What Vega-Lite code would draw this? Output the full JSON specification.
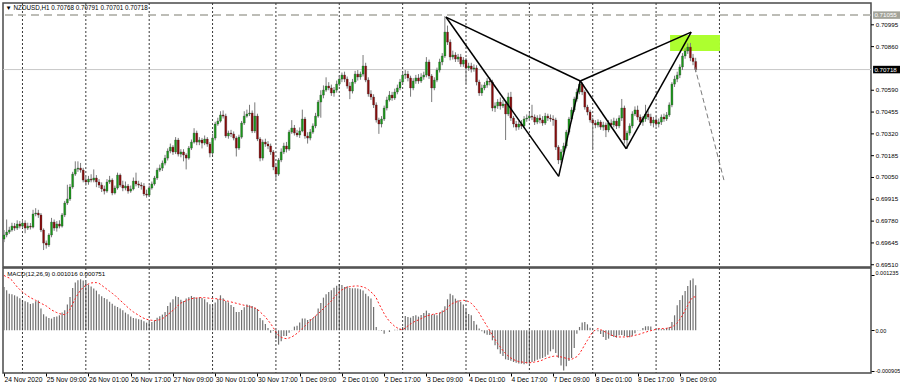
{
 "$schema": "https://vega.github.io/schema/vega-lite/v6.json",
 "background": "#ffffff",
 "padding": {"left": 1, "top": 1, "right": 0, "bottom": 0},
 "autosize": {"type": "pad"},
 "spacing": 1,
 "bounds": "flush",
 "resolve": {"scale": {"x": "independent", "y": "independent"}},
 "config": {
  "view": {"stroke": "#4a4a4a", "strokeWidth": 1.5},
  "scale": {"continuousPadding": 0},
  "text": {"font": "Liberation Sans"},
  "axis": {"labelFont": "Liberation Sans", "labelFontSize": 6.2, "labelColor": "#000000", "tickColor": "#000000", "tickSize": 3, "domain": false, "grid": false, "labelOverlap": false}
 },
 "datasets": {
  "grid": [{"i":7},{"i":31},{"i":55},{"i":79},{"i":103},{"i":127},{"i":151},{"i":175},{"i":199},{"i":223},{"i":247},{"i":271}],
  "pricelabels": [{"p":0.70995},{"p":0.7086},{"p":0.7059},{"p":0.70455},{"p":0.7032},{"p":0.70185},{"p":0.7005},{"p":0.69915},{"p":0.6978},{"p":0.69645},{"p":0.6951}],
  "pattern": [
   {"seg":"XA","i":167.4,"p":0.71043},{"seg":"XA","i":210.1,"p":0.70057},
   {"seg":"AB","i":210.1,"p":0.70057},{"seg":"AB","i":218.3,"p":0.70647},
   {"seg":"XB","i":167.4,"p":0.71043},{"seg":"XB","i":218.3,"p":0.70647},
   {"seg":"BC","i":218.3,"p":0.70647},{"seg":"BC","i":235.7,"p":0.70228},
   {"seg":"CD","i":235.7,"p":0.70228},{"seg":"CD","i":260.3,"p":0.7095},
   {"seg":"BD","i":218.3,"p":0.70647},{"seg":"BD","i":260.3,"p":0.7095}
  ],
  "proj": [{"i":261.7,"p":0.70734},{"i":272.7,"p":0.70034}],
  "zone": [{"i1":252.3,"i2":271.2,"p1":0.70932,"p2":0.70833}],
  "bars": [
{"i":0,"o":0.69669,"h":0.69725,"l":0.6965,"c":0.69694,"m":0.000975,"s":0.001235},
{"i":1,"o":0.69694,"h":0.6979,"l":0.6968,"c":0.69712,"m":0.0009,"s":0.0012},
{"i":2,"o":0.69712,"h":0.69745,"l":0.697,"c":0.69725,"m":0.000825,"s":0.001178},
{"i":3,"o":0.69725,"h":0.6977,"l":0.69715,"c":0.69749,"m":0.00081,"s":0.001125},
{"i":4,"o":0.69749,"h":0.69768,"l":0.6972,"c":0.69737,"m":0.000788,"s":0.00105},
{"i":5,"o":0.69737,"h":0.69785,"l":0.69725,"c":0.69762,"m":0.000758,"s":0.000975},
{"i":6,"o":0.69762,"h":0.6978,"l":0.69735,"c":0.69749,"m":0.00072,"s":0.000915},
{"i":7,"o":0.69749,"h":0.6979,"l":0.69738,"c":0.69768,"m":0.000675,"s":0.000863},
{"i":8,"o":0.69768,"h":0.69785,"l":0.69705,"c":0.69737,"m":0.000653,"s":0.000818},
{"i":9,"o":0.69737,"h":0.6977,"l":0.69725,"c":0.69749,"m":0.00063,"s":0.000773},
{"i":10,"o":0.69749,"h":0.69768,"l":0.69728,"c":0.69743,"m":0.000593,"s":0.000735},
{"i":11,"o":0.69743,"h":0.6985,"l":0.69735,"c":0.69824,"m":0.000608,"s":0.000705},
{"i":12,"o":0.69824,"h":0.6986,"l":0.6981,"c":0.6983,"m":0.000653,"s":0.000675},
{"i":13,"o":0.6983,"h":0.6985,"l":0.698,"c":0.69818,"m":0.000668,"s":0.000638},
{"i":14,"o":0.69818,"h":0.6983,"l":0.69712,"c":0.69725,"m":0.000488,"s":0.000608},
{"i":15,"o":0.69725,"h":0.69735,"l":0.69601,"c":0.69644,"m":0.00036,"s":0.000578},
{"i":16,"o":0.69644,"h":0.6966,"l":0.6961,"c":0.69632,"m":0.000308,"s":0.000548},
{"i":17,"o":0.69632,"h":0.69705,"l":0.6962,"c":0.69694,"m":0.000278,"s":0.000503},
{"i":18,"o":0.69694,"h":0.698,"l":0.6968,"c":0.69774,"m":0.000263,"s":0.000458},
{"i":19,"o":0.69774,"h":0.6979,"l":0.6972,"c":0.69737,"m":0.0003,"s":0.000428},
{"i":20,"o":0.69737,"h":0.6978,"l":0.69715,"c":0.69762,"m":0.000308,"s":0.000398},
{"i":21,"o":0.69762,"h":0.69785,"l":0.69735,"c":0.69749,"m":0.000338,"s":0.000375},
{"i":22,"o":0.69749,"h":0.6983,"l":0.6974,"c":0.69818,"m":0.000398,"s":0.00036},
{"i":23,"o":0.69818,"h":0.69905,"l":0.69805,"c":0.69892,"m":0.00045,"s":0.000353},
{"i":24,"o":0.69892,"h":0.70005,"l":0.6988,"c":0.69917,"m":0.000578,"s":0.00039},
{"i":25,"o":0.69917,"h":0.7001,"l":0.69905,"c":0.69991,"m":0.00075,"s":0.000473},
{"i":26,"o":0.69991,"h":0.70085,"l":0.6998,"c":0.70071,"m":0.000953,"s":0.000593},
{"i":27,"o":0.70071,"h":0.7015,"l":0.7006,"c":0.70102,"m":0.001073,"s":0.000713},
{"i":28,"o":0.70102,"h":0.7015,"l":0.70085,"c":0.70108,"m":0.001125,"s":0.000818},
{"i":29,"o":0.70108,"h":0.7014,"l":0.7008,"c":0.70096,"m":0.001148,"s":0.0009},
{"i":30,"o":0.70096,"h":0.7011,"l":0.7002,"c":0.70034,"m":0.001118,"s":0.000968},
{"i":31,"o":0.70034,"h":0.70055,"l":0.7,"c":0.70022,"m":0.001088,"s":0.001013},
{"i":32,"o":0.70022,"h":0.7006,"l":0.70005,"c":0.7004,"m":0.001028,"s":0.001043},
{"i":33,"o":0.7004,"h":0.7007,"l":0.7002,"c":0.70034,"m":0.000983,"s":0.001065},
{"i":34,"o":0.70034,"h":0.701,"l":0.7002,"c":0.70047,"m":0.000938,"s":0.001073},
{"i":35,"o":0.70047,"h":0.70065,"l":0.6999,"c":0.70022,"m":0.000893,"s":0.001073},
{"i":36,"o":0.70022,"h":0.7004,"l":0.69985,"c":0.70003,"m":0.00081,"s":0.001058},
{"i":37,"o":0.70003,"h":0.7002,"l":0.6996,"c":0.69979,"m":0.000765,"s":0.001013},
{"i":38,"o":0.69979,"h":0.7,"l":0.69945,"c":0.69966,"m":0.000728,"s":0.000968},
{"i":39,"o":0.69966,"h":0.7004,"l":0.69955,"c":0.70022,"m":0.000698,"s":0.000923},
{"i":40,"o":0.70022,"h":0.7006,"l":0.7001,"c":0.70034,"m":0.000645,"s":0.000878},
{"i":41,"o":0.70034,"h":0.70045,"l":0.6994,"c":0.69954,"m":0.0006,"s":0.000833},
{"i":42,"o":0.69954,"h":0.7,"l":0.69945,"c":0.69985,"m":0.000555,"s":0.000788},
{"i":43,"o":0.69985,"h":0.7008,"l":0.69975,"c":0.70065,"m":0.000525,"s":0.000728},
{"i":44,"o":0.70065,"h":0.70075,"l":0.6999,"c":0.70003,"m":0.000488,"s":0.000675},
{"i":45,"o":0.70003,"h":0.7003,"l":0.69965,"c":0.69985,"m":0.00045,"s":0.000623},
{"i":46,"o":0.69985,"h":0.70025,"l":0.6997,"c":0.69997,"m":0.000398,"s":0.000563},
{"i":47,"o":0.69997,"h":0.7001,"l":0.6995,"c":0.69966,"m":0.00036,"s":0.00051},
{"i":48,"o":0.69966,"h":0.7,"l":0.69955,"c":0.69979,"m":0.000308,"s":0.000458},
{"i":49,"o":0.69979,"h":0.7005,"l":0.6997,"c":0.70028,"m":0.000278,"s":0.000413},
{"i":50,"o":0.70028,"h":0.7008,"l":0.69995,"c":0.7001,"m":0.000263,"s":0.000375},
{"i":51,"o":0.7001,"h":0.7003,"l":0.69985,"c":0.70003,"m":0.000248,"s":0.000338},
{"i":52,"o":0.70003,"h":0.7002,"l":0.69975,"c":0.69997,"m":0.00024,"s":0.0003},
{"i":53,"o":0.69997,"h":0.70015,"l":0.69935,"c":0.69948,"m":0.000203,"s":0.00027},
{"i":54,"o":0.69948,"h":0.69975,"l":0.69925,"c":0.69941,"m":0.000173,"s":0.000248},
{"i":55,"o":0.69941,"h":0.7,"l":0.6993,"c":0.69985,"m":0.000188,"s":0.000233},
{"i":56,"o":0.69985,"h":0.70025,"l":0.69975,"c":0.7001,"m":0.000188,"s":0.000225},
{"i":57,"o":0.7001,"h":0.7006,"l":0.7,"c":0.70047,"m":0.000225,"s":0.000218},
{"i":58,"o":0.70047,"h":0.7011,"l":0.70035,"c":0.70096,"m":0.000285,"s":0.000225},
{"i":59,"o":0.70096,"h":0.7013,"l":0.70085,"c":0.70108,"m":0.000315,"s":0.00024},
{"i":60,"o":0.70108,"h":0.70155,"l":0.7009,"c":0.70139,"m":0.000353,"s":0.000263},
{"i":61,"o":0.70139,"h":0.7019,"l":0.70125,"c":0.7017,"m":0.000413,"s":0.0003},
{"i":62,"o":0.7017,"h":0.7023,"l":0.70155,"c":0.70214,"m":0.000548,"s":0.000353},
{"i":63,"o":0.70214,"h":0.7026,"l":0.702,"c":0.70238,"m":0.000623,"s":0.000398},
{"i":64,"o":0.70238,"h":0.7025,"l":0.7019,"c":0.70208,"m":0.000698,"s":0.00045},
{"i":65,"o":0.70208,"h":0.703,"l":0.70195,"c":0.70282,"m":0.000765,"s":0.000503},
{"i":66,"o":0.70282,"h":0.70295,"l":0.7018,"c":0.70195,"m":0.00075,"s":0.000563},
{"i":67,"o":0.70195,"h":0.70225,"l":0.70175,"c":0.70208,"m":0.00069,"s":0.000615},
{"i":68,"o":0.70208,"h":0.70225,"l":0.7015,"c":0.70189,"m":0.00066,"s":0.000638},
{"i":69,"o":0.70189,"h":0.702,"l":0.701,"c":0.7017,"m":0.000713,"s":0.000668},
{"i":70,"o":0.7017,"h":0.70245,"l":0.7016,"c":0.70232,"m":0.000743,"s":0.00069},
{"i":71,"o":0.70232,"h":0.70285,"l":0.7022,"c":0.70269,"m":0.000773,"s":0.000713},
{"i":72,"o":0.70269,"h":0.70355,"l":0.7026,"c":0.70325,"m":0.00075,"s":0.00072},
{"i":73,"o":0.70325,"h":0.7034,"l":0.7025,"c":0.70269,"m":0.000728,"s":0.000728},
{"i":74,"o":0.70269,"h":0.703,"l":0.7025,"c":0.70282,"m":0.000743,"s":0.000735},
{"i":75,"o":0.70282,"h":0.70295,"l":0.7023,"c":0.70263,"m":0.000728,"s":0.000735},
{"i":76,"o":0.70263,"h":0.7031,"l":0.7025,"c":0.70288,"m":0.000698,"s":0.000735},
{"i":77,"o":0.70288,"h":0.703,"l":0.7024,"c":0.70257,"m":0.00063,"s":0.000728},
{"i":78,"o":0.70257,"h":0.7027,"l":0.70175,"c":0.70201,"m":0.000585,"s":0.00072},
{"i":79,"o":0.70201,"h":0.7032,"l":0.7019,"c":0.70294,"m":0.000585,"s":0.000713},
{"i":80,"o":0.70294,"h":0.70395,"l":0.7028,"c":0.70381,"m":0.000623,"s":0.000713},
{"i":81,"o":0.70381,"h":0.7042,"l":0.7037,"c":0.70399,"m":0.000705,"s":0.000705},
{"i":82,"o":0.70399,"h":0.7046,"l":0.7039,"c":0.70437,"m":0.000788,"s":0.000698},
{"i":83,"o":0.70437,"h":0.70465,"l":0.70415,"c":0.7043,"m":0.00072,"s":0.000683},
{"i":84,"o":0.7043,"h":0.70445,"l":0.70295,"c":0.70307,"m":0.00066,"s":0.000668},
{"i":85,"o":0.70307,"h":0.7034,"l":0.7029,"c":0.70325,"m":0.00063,"s":0.000653},
{"i":86,"o":0.70325,"h":0.70345,"l":0.703,"c":0.70319,"m":0.00057,"s":0.000638},
{"i":87,"o":0.70319,"h":0.70335,"l":0.7028,"c":0.70294,"m":0.000525,"s":0.000623},
{"i":88,"o":0.70294,"h":0.70305,"l":0.7018,"c":0.70232,"m":0.000413,"s":0.000608},
{"i":89,"o":0.70232,"h":0.70315,"l":0.7022,"c":0.703,"m":0.000413,"s":0.000593},
{"i":90,"o":0.703,"h":0.704,"l":0.7029,"c":0.70387,"m":0.000458,"s":0.000578},
{"i":91,"o":0.70387,"h":0.7046,"l":0.70375,"c":0.7043,"m":0.000518,"s":0.000563},
{"i":92,"o":0.7043,"h":0.7047,"l":0.7042,"c":0.70443,"m":0.000578,"s":0.000548},
{"i":93,"o":0.70443,"h":0.705,"l":0.7043,"c":0.70449,"m":0.000563,"s":0.000533},
{"i":94,"o":0.70449,"h":0.70465,"l":0.70325,"c":0.70338,"m":0.000548,"s":0.000518},
{"i":95,"o":0.70338,"h":0.70515,"l":0.70325,"c":0.7043,"m":0.00051,"s":0.000503},
{"i":96,"o":0.7043,"h":0.70445,"l":0.70275,"c":0.70288,"m":0.00048,"s":0.000473},
{"i":97,"o":0.70288,"h":0.703,"l":0.7015,"c":0.7017,"m":0.000278,"s":0.000413},
{"i":98,"o":0.7017,"h":0.70285,"l":0.70155,"c":0.70269,"m":0.000225,"s":0.00036},
{"i":99,"o":0.70269,"h":0.7029,"l":0.7024,"c":0.70257,"m":0.000143,"s":0.0003},
{"i":100,"o":0.70257,"h":0.70275,"l":0.70225,"c":0.70245,"m":0.000053,"s":0.000225},
{"i":101,"o":0.70245,"h":0.7026,"l":0.7019,"c":0.70208,"m":-0.000053,"s":0.00015},
{"i":102,"o":0.70208,"h":0.7022,"l":0.70095,"c":0.70115,"m":-0.000015,"s":0.00006},
{"i":103,"o":0.70115,"h":0.7013,"l":0.7004,"c":0.70071,"m":-0.000188,"s":-0.000038},
{"i":104,"o":0.70071,"h":0.7017,"l":0.7006,"c":0.70158,"m":-0.000323,"s":-0.000113},
{"i":105,"o":0.70158,"h":0.7023,"l":0.70145,"c":0.70208,"m":-0.000248,"s":-0.000158},
{"i":106,"o":0.70208,"h":0.70265,"l":0.70195,"c":0.70245,"m":-0.000128,"s":-0.00018},
{"i":107,"o":0.70245,"h":0.7027,"l":0.70205,"c":0.70226,"m":-0.000128,"s":-0.000188},
{"i":108,"o":0.70226,"h":0.70345,"l":0.70215,"c":0.70331,"m":-0.000053,"s":-0.000173},
{"i":109,"o":0.70331,"h":0.70405,"l":0.7032,"c":0.70356,"m":0.000008,"s":-0.00015},
{"i":110,"o":0.70356,"h":0.70375,"l":0.7031,"c":0.70325,"m":0.000083,"s":-0.000113},
{"i":111,"o":0.70325,"h":0.70345,"l":0.703,"c":0.70313,"m":0.000105,"s":-0.000068},
{"i":112,"o":0.70313,"h":0.7036,"l":0.70295,"c":0.70338,"m":0.000173,"s":-0.000015},
{"i":113,"o":0.70338,"h":0.7047,"l":0.7033,"c":0.70412,"m":0.000263,"s":0.000038},
{"i":114,"o":0.70412,"h":0.70425,"l":0.7029,"c":0.70307,"m":0.000263,"s":0.000098},
{"i":115,"o":0.70307,"h":0.7033,"l":0.7026,"c":0.70294,"m":0.000233,"s":0.000158},
{"i":116,"o":0.70294,"h":0.7035,"l":0.7028,"c":0.70331,"m":0.000255,"s":0.000218},
{"i":117,"o":0.70331,"h":0.70385,"l":0.7032,"c":0.70369,"m":0.000278,"s":0.00027},
{"i":118,"o":0.70369,"h":0.7045,"l":0.70355,"c":0.7043,"m":0.00033,"s":0.000323},
{"i":119,"o":0.7043,"h":0.7053,"l":0.7042,"c":0.70517,"m":0.000488,"s":0.000375},
{"i":120,"o":0.70517,"h":0.7059,"l":0.7042,"c":0.7056,"m":0.000615,"s":0.000428},
{"i":121,"o":0.7056,"h":0.7062,"l":0.7054,"c":0.70591,"m":0.000735,"s":0.000488},
{"i":122,"o":0.70591,"h":0.7067,"l":0.7058,"c":0.70616,"m":0.00081,"s":0.000548},
{"i":123,"o":0.70616,"h":0.7064,"l":0.7059,"c":0.70604,"m":0.000863,"s":0.0006},
{"i":124,"o":0.70604,"h":0.70625,"l":0.70555,"c":0.70573,"m":0.0009,"s":0.00066},
{"i":125,"o":0.70573,"h":0.7061,"l":0.7055,"c":0.70591,"m":0.00096,"s":0.000735},
{"i":126,"o":0.70591,"h":0.7065,"l":0.70575,"c":0.70628,"m":0.001005,"s":0.000803},
{"i":127,"o":0.70628,"h":0.7068,"l":0.70615,"c":0.70659,"m":0.001043,"s":0.000863},
{"i":128,"o":0.70659,"h":0.707,"l":0.7064,"c":0.70684,"m":0.00102,"s":0.000908},
{"i":129,"o":0.70684,"h":0.70705,"l":0.7064,"c":0.70659,"m":0.000975,"s":0.000945},
{"i":130,"o":0.70659,"h":0.70675,"l":0.706,"c":0.70616,"m":0.00099,"s":0.000968},
{"i":131,"o":0.70616,"h":0.7064,"l":0.70535,"c":0.70585,"m":0.000953,"s":0.000983},
{"i":132,"o":0.70585,"h":0.7066,"l":0.7057,"c":0.70641,"m":0.000945,"s":0.00099},
{"i":133,"o":0.70641,"h":0.7071,"l":0.7063,"c":0.7069,"m":0.000945,"s":0.000998},
{"i":134,"o":0.7069,"h":0.70715,"l":0.7065,"c":0.70672,"m":0.000938,"s":0.000998},
{"i":135,"o":0.70672,"h":0.70705,"l":0.70655,"c":0.7069,"m":0.000923,"s":0.00099},
{"i":136,"o":0.7069,"h":0.70808,"l":0.70675,"c":0.7074,"m":0.000893,"s":0.000975},
{"i":137,"o":0.7074,"h":0.7076,"l":0.7064,"c":0.70653,"m":0.000825,"s":0.000953},
{"i":138,"o":0.70653,"h":0.7067,"l":0.7055,"c":0.70567,"m":0.000765,"s":0.000915},
{"i":139,"o":0.70567,"h":0.7059,"l":0.7053,"c":0.70548,"m":0.000713,"s":0.000863},
{"i":140,"o":0.70548,"h":0.70565,"l":0.7048,"c":0.70499,"m":0.000525,"s":0.00081},
{"i":141,"o":0.70499,"h":0.70515,"l":0.7039,"c":0.70406,"m":0.000075,"s":0.000728},
{"i":142,"o":0.70406,"h":0.7042,"l":0.7032,"c":0.70381,"m":0.000004,"s":0.0006},
{"i":143,"o":0.70381,"h":0.7043,"l":0.7036,"c":0.70412,"m":-0.000015,"s":0.000488},
{"i":144,"o":0.70412,"h":0.70495,"l":0.704,"c":0.7048,"m":-0.000075,"s":0.000375},
{"i":145,"o":0.7048,"h":0.7055,"l":0.70465,"c":0.7053,"m":0.000003,"s":0.000278},
{"i":146,"o":0.7053,"h":0.70585,"l":0.7052,"c":0.7056,"m":-0.000038,"s":0.000203},
{"i":147,"o":0.7056,"h":0.7058,"l":0.70525,"c":0.70542,"m":0.000002,"s":0.000143},
{"i":148,"o":0.70542,"h":0.706,"l":0.7053,"c":0.70579,"m":0.000015,"s":0.00009},
{"i":149,"o":0.70579,"h":0.70625,"l":0.70565,"c":0.70604,"m":0.000015,"s":0.000053},
{"i":150,"o":0.70604,"h":0.7066,"l":0.7059,"c":0.70641,"m":0.000038,"s":0.000023},
{"i":151,"o":0.70641,"h":0.707,"l":0.7063,"c":0.70684,"m":0.000075,"s":0.000008},
{"i":152,"o":0.70684,"h":0.70715,"l":0.7066,"c":0.7069,"m":0.000323,"s":0.000053},
{"i":153,"o":0.7069,"h":0.7071,"l":0.70645,"c":0.70666,"m":0.0003,"s":0.000098},
{"i":154,"o":0.70666,"h":0.7068,"l":0.7055,"c":0.70604,"m":0.000285,"s":0.000143},
{"i":155,"o":0.70604,"h":0.70665,"l":0.7059,"c":0.70647,"m":0.000323,"s":0.00018},
{"i":156,"o":0.70647,"h":0.70685,"l":0.7063,"c":0.70666,"m":0.000338,"s":0.00021},
{"i":157,"o":0.70666,"h":0.7069,"l":0.7063,"c":0.70647,"m":0.000308,"s":0.000233},
{"i":158,"o":0.70647,"h":0.70695,"l":0.70635,"c":0.70672,"m":0.000345,"s":0.000263},
{"i":159,"o":0.70672,"h":0.70705,"l":0.70655,"c":0.70684,"m":0.00039,"s":0.000293},
{"i":160,"o":0.70684,"h":0.70795,"l":0.7067,"c":0.70765,"m":0.000443,"s":0.000323},
{"i":161,"o":0.70765,"h":0.7078,"l":0.7066,"c":0.70678,"m":0.00039,"s":0.000338},
{"i":162,"o":0.70678,"h":0.7069,"l":0.70517,"c":0.70604,"m":0.000345,"s":0.000353},
{"i":163,"o":0.70604,"h":0.7067,"l":0.7059,"c":0.70653,"m":0.00036,"s":0.000368},
{"i":164,"o":0.70653,"h":0.7073,"l":0.7064,"c":0.70715,"m":0.000338,"s":0.000375},
{"i":165,"o":0.70715,"h":0.70785,"l":0.707,"c":0.70765,"m":0.000398,"s":0.000383},
{"i":166,"o":0.70765,"h":0.7082,"l":0.70745,"c":0.70802,"m":0.000443,"s":0.000413},
{"i":167,"o":0.70802,"h":0.71049,"l":0.7079,"c":0.7095,"m":0.00054,"s":0.000443},
{"i":168,"o":0.7095,"h":0.7099,"l":0.7087,"c":0.70888,"m":0.000698,"s":0.000488},
{"i":169,"o":0.70888,"h":0.70905,"l":0.70775,"c":0.70796,"m":0.000825,"s":0.000578},
{"i":170,"o":0.70796,"h":0.70835,"l":0.7078,"c":0.70808,"m":0.000788,"s":0.000608},
{"i":171,"o":0.70808,"h":0.70825,"l":0.70765,"c":0.70783,"m":0.000713,"s":0.00063},
{"i":172,"o":0.70783,"h":0.70815,"l":0.70765,"c":0.70796,"m":0.000675,"s":0.000653},
{"i":173,"o":0.70796,"h":0.70815,"l":0.70735,"c":0.70752,"m":0.000645,"s":0.000668},
{"i":174,"o":0.70752,"h":0.70795,"l":0.70735,"c":0.70777,"m":0.000578,"s":0.000675},
{"i":175,"o":0.70777,"h":0.7079,"l":0.7063,"c":0.70728,"m":0.000465,"s":0.000668},
{"i":176,"o":0.70728,"h":0.7076,"l":0.7071,"c":0.7074,"m":0.000368,"s":0.000645},
{"i":177,"o":0.7074,"h":0.7076,"l":0.707,"c":0.70721,"m":0.000338,"s":0.000608},
{"i":178,"o":0.70721,"h":0.7075,"l":0.70705,"c":0.70728,"m":0.00021,"s":0.000548},
{"i":179,"o":0.70728,"h":0.70745,"l":0.7062,"c":0.70641,"m":0.000128,"s":0.000473},
{"i":180,"o":0.70641,"h":0.70655,"l":0.70555,"c":0.70573,"m":0.000038,"s":0.00039},
{"i":181,"o":0.70573,"h":0.70625,"l":0.70555,"c":0.70604,"m":-0.000023,"s":0.000285},
{"i":182,"o":0.70604,"h":0.7064,"l":0.7059,"c":0.70622,"m":-0.000068,"s":0.000188},
{"i":183,"o":0.70622,"h":0.70665,"l":0.70605,"c":0.70647,"m":-0.000098,"s":0.00009},
{"i":184,"o":0.70647,"h":0.7067,"l":0.7062,"c":0.70641,"m":-0.000105,"s":-0.000008},
{"i":185,"o":0.70641,"h":0.70655,"l":0.7046,"c":0.7048,"m":-0.000225,"s":-0.000113},
{"i":186,"o":0.7048,"h":0.70515,"l":0.70455,"c":0.70493,"m":-0.000338,"s":-0.000203},
{"i":187,"o":0.70493,"h":0.70535,"l":0.70475,"c":0.70517,"m":-0.000428,"s":-0.0003},
{"i":188,"o":0.70517,"h":0.70545,"l":0.7047,"c":0.70493,"m":-0.000525,"s":-0.000375},
{"i":189,"o":0.70493,"h":0.7053,"l":0.7048,"c":0.70505,"m":-0.000578,"s":-0.000458},
{"i":190,"o":0.70505,"h":0.7052,"l":0.70282,"c":0.70443,"m":-0.000653,"s":-0.000525},
{"i":191,"o":0.70443,"h":0.70575,"l":0.7043,"c":0.70548,"m":-0.000668,"s":-0.000578},
{"i":192,"o":0.70548,"h":0.7058,"l":0.704,"c":0.70418,"m":-0.000683,"s":-0.000623},
{"i":193,"o":0.70418,"h":0.7043,"l":0.7036,"c":0.70381,"m":-0.000713,"s":-0.00066},
{"i":194,"o":0.70381,"h":0.704,"l":0.7034,"c":0.70362,"m":-0.000728,"s":-0.000683},
{"i":195,"o":0.70362,"h":0.704,"l":0.70345,"c":0.70381,"m":-0.00075,"s":-0.000705},
{"i":196,"o":0.70381,"h":0.70405,"l":0.7035,"c":0.70369,"m":-0.00075,"s":-0.000713},
{"i":197,"o":0.70369,"h":0.7043,"l":0.70355,"c":0.70412,"m":-0.000765,"s":-0.00072},
{"i":198,"o":0.70412,"h":0.7044,"l":0.70395,"c":0.70418,"m":-0.00075,"s":-0.000728},
{"i":199,"o":0.70418,"h":0.7045,"l":0.704,"c":0.7043,"m":-0.00075,"s":-0.000728},
{"i":200,"o":0.7043,"h":0.705,"l":0.70405,"c":0.70424,"m":-0.000713,"s":-0.000728},
{"i":201,"o":0.70424,"h":0.7044,"l":0.70375,"c":0.70393,"m":-0.00069,"s":-0.000713},
{"i":202,"o":0.70393,"h":0.70435,"l":0.7038,"c":0.70418,"m":-0.00066,"s":-0.000705},
{"i":203,"o":0.70418,"h":0.7044,"l":0.70385,"c":0.70406,"m":-0.000638,"s":-0.00069},
{"i":204,"o":0.70406,"h":0.7043,"l":0.7037,"c":0.70387,"m":-0.000623,"s":-0.000668},
{"i":205,"o":0.70387,"h":0.7045,"l":0.70375,"c":0.7043,"m":-0.000593,"s":-0.000638},
{"i":206,"o":0.7043,"h":0.70445,"l":0.704,"c":0.70418,"m":-0.000548,"s":-0.000615},
{"i":207,"o":0.70418,"h":0.7044,"l":0.70395,"c":0.70412,"m":-0.000473,"s":-0.0006},
{"i":208,"o":0.70412,"h":0.70435,"l":0.7037,"c":0.70406,"m":-0.000428,"s":-0.000585},
{"i":209,"o":0.70406,"h":0.7042,"l":0.7022,"c":0.70238,"m":-0.00051,"s":-0.000578},
{"i":210,"o":0.70238,"h":0.7025,"l":0.70133,"c":0.70158,"m":-0.000615,"s":-0.000585},
{"i":211,"o":0.70158,"h":0.70225,"l":0.7014,"c":0.70208,"m":-0.000795,"s":-0.0006},
{"i":212,"o":0.70208,"h":0.70265,"l":0.7019,"c":0.70245,"m":-0.000905,"s":-0.000615},
{"i":213,"o":0.70245,"h":0.70345,"l":0.7023,"c":0.70331,"m":-0.00081,"s":-0.00063},
{"i":214,"o":0.70331,"h":0.70425,"l":0.70315,"c":0.70412,"m":-0.00069,"s":-0.000645},
{"i":215,"o":0.70412,"h":0.70485,"l":0.70395,"c":0.70468,"m":-0.000623,"s":-0.000653},
{"i":216,"o":0.70468,"h":0.7055,"l":0.70455,"c":0.70536,"m":-0.000398,"s":-0.000623},
{"i":217,"o":0.70536,"h":0.706,"l":0.7052,"c":0.70579,"m":-0.000075,"s":-0.000593},
{"i":218,"o":0.70579,"h":0.70647,"l":0.70565,"c":0.70628,"m":0.000075,"s":-0.000525},
{"i":219,"o":0.70628,"h":0.7064,"l":0.7056,"c":0.70579,"m":0.000173,"s":-0.000428},
{"i":220,"o":0.70579,"h":0.7059,"l":0.7047,"c":0.70486,"m":0.000188,"s":-0.000323},
{"i":221,"o":0.70486,"h":0.705,"l":0.70435,"c":0.70455,"m":0.000135,"s":-0.000225},
{"i":222,"o":0.70455,"h":0.7047,"l":0.7039,"c":0.70406,"m":0.00006,"s":-0.000128},
{"i":223,"o":0.70406,"h":0.7042,"l":0.7022,"c":0.70387,"m":0.000015,"s":-0.000038},
{"i":224,"o":0.70387,"h":0.70405,"l":0.70355,"c":0.70375,"m":-0.000005,"s":0.000008},
{"i":225,"o":0.70375,"h":0.7041,"l":0.7036,"c":0.70393,"m":-0.000023,"s":0.000038},
{"i":226,"o":0.70393,"h":0.70405,"l":0.70345,"c":0.70362,"m":-0.000083,"s":0.000015},
{"i":227,"o":0.70362,"h":0.70395,"l":0.7034,"c":0.70375,"m":-0.00015,"s":-0.000015},
{"i":228,"o":0.70375,"h":0.7039,"l":0.703,"c":0.70344,"m":-0.000218,"s":-0.000045},
{"i":229,"o":0.70344,"h":0.70405,"l":0.7033,"c":0.70387,"m":-0.000188,"s":-0.000075},
{"i":230,"o":0.70387,"h":0.7041,"l":0.70355,"c":0.70375,"m":-0.000128,"s":-0.000105},
{"i":231,"o":0.70375,"h":0.7042,"l":0.7036,"c":0.70399,"m":-0.00015,"s":-0.000128},
{"i":232,"o":0.70399,"h":0.70415,"l":0.7035,"c":0.70369,"m":-0.000165,"s":-0.000143},
{"i":233,"o":0.70369,"h":0.70435,"l":0.70355,"c":0.70418,"m":-0.000113,"s":-0.00015},
{"i":234,"o":0.70418,"h":0.70536,"l":0.704,"c":0.7048,"m":-0.000105,"s":-0.00015},
{"i":235,"o":0.7048,"h":0.70495,"l":0.7026,"c":0.70282,"m":-0.000128,"s":-0.00015},
{"i":236,"o":0.70282,"h":0.7034,"l":0.70226,"c":0.70325,"m":-0.00015,"s":-0.00015},
{"i":237,"o":0.70325,"h":0.70385,"l":0.7031,"c":0.70369,"m":-0.000158,"s":-0.000135},
{"i":238,"o":0.70369,"h":0.7046,"l":0.70355,"c":0.70443,"m":-0.00012,"s":-0.000128},
{"i":239,"o":0.70443,"h":0.7049,"l":0.7043,"c":0.70468,"m":-0.000068,"s":-0.000113},
{"i":240,"o":0.70468,"h":0.70495,"l":0.70405,"c":0.70424,"m":-0.000005,"s":-0.000098},
{"i":241,"o":0.70424,"h":0.7044,"l":0.70375,"c":0.70393,"m":0.000005,"s":-0.000083},
{"i":242,"o":0.70393,"h":0.7043,"l":0.7037,"c":0.70412,"m":0.000053,"s":-0.00006},
{"i":243,"o":0.70412,"h":0.705,"l":0.70395,"c":0.70443,"m":0.00009,"s":-0.000045},
{"i":244,"o":0.70443,"h":0.70465,"l":0.70405,"c":0.70424,"m":0.00009,"s":-0.000023},
{"i":245,"o":0.70424,"h":0.70445,"l":0.7037,"c":0.70387,"m":0.000083,"s":-0.000008},
{"i":246,"o":0.70387,"h":0.70425,"l":0.7036,"c":0.70406,"m":0.000005,"s":0.000008},
{"i":247,"o":0.70406,"h":0.7043,"l":0.70365,"c":0.70381,"m":0.000008,"s":0.000023},
{"i":248,"o":0.70381,"h":0.70415,"l":0.7036,"c":0.70393,"m":0.000038,"s":0.000038},
{"i":249,"o":0.70393,"h":0.7044,"l":0.70375,"c":0.70424,"m":0.000023,"s":0.000038},
{"i":250,"o":0.70424,"h":0.70445,"l":0.70395,"c":0.70412,"m":0.00003,"s":0.000038},
{"i":251,"o":0.70412,"h":0.70455,"l":0.704,"c":0.70437,"m":0.000053,"s":0.000045},
{"i":252,"o":0.70437,"h":0.70515,"l":0.70425,"c":0.70499,"m":0.000075,"s":0.00006},
{"i":253,"o":0.70499,"h":0.7064,"l":0.70485,"c":0.70628,"m":0.000188,"s":0.000075},
{"i":254,"o":0.70628,"h":0.7068,"l":0.7061,"c":0.70659,"m":0.000338,"s":0.000113},
{"i":255,"o":0.70659,"h":0.70705,"l":0.7064,"c":0.70684,"m":0.000563,"s":0.000165},
{"i":256,"o":0.70684,"h":0.7075,"l":0.70665,"c":0.70734,"m":0.000683,"s":0.000248},
{"i":257,"o":0.70734,"h":0.7082,"l":0.70715,"c":0.70802,"m":0.000788,"s":0.000338},
{"i":258,"o":0.70802,"h":0.7085,"l":0.70785,"c":0.70833,"m":0.000885,"s":0.00045},
{"i":259,"o":0.70833,"h":0.7088,"l":0.70815,"c":0.70857,"m":0.000998,"s":0.000563},
{"i":260,"o":0.70857,"h":0.70883,"l":0.7077,"c":0.7079,"m":0.001125,"s":0.000675},
{"i":261,"o":0.7079,"h":0.70815,"l":0.70745,"c":0.70768,"m":0.001163,"s":0.00075},
{"i":262,"o":0.70768,"h":0.70791,"l":0.70701,"c":0.70718,"m":0.001016,"s":0.000751}
  ]
 },
 "vconcat": [
  {
   "width": 868,
   "height": 264,
   "layer": [
    {
     "data": {"name": "grid"},
     "mark": {"type": "rule", "color": "#3a3a3a", "strokeDash": [2, 2], "strokeWidth": 1},
     "encoding": {
      "x": {"field": "i", "type": "quantitative", "scale": {"domain": [-0.38, 328.41], "nice": false, "zero": false, "padding": 0}, "axis": null}
     }
    },
    {
     "data": {"values": [{"p": 0.71055}]},
     "mark": {"type": "rule", "color": "#a8a8a0", "strokeDash": [8, 5], "strokeWidth": 1.5},
     "encoding": {
      "y": {"field": "p", "type": "quantitative", "scale": {"domain": [0.69496, 0.7113], "nice": false, "zero": false, "padding": 0}, "axis": null}
     }
    },
    {
     "data": {"values": [{"p": 0.70718}]},
     "mark": {"type": "rule", "color": "#c8c8c8", "strokeWidth": 1},
     "encoding": {
      "y": {"field": "p", "type": "quantitative", "axis": null}
     }
    },
    {
     "data": {"name": "zone"},
     "mark": {"type": "rect", "color": "#adff2f", "opacity": 1},
     "encoding": {
      "x": {"field": "i1", "type": "quantitative", "axis": null},
      "x2": {"field": "i2"},
      "y": {"field": "p1", "type": "quantitative", "axis": null},
      "y2": {"field": "p2"}
     }
    },
    {
     "data": {"name": "bars"},
     "mark": {"type": "rule", "color": "#7a7a7a", "strokeWidth": 1},
     "encoding": {
      "x": {"field": "i", "type": "quantitative", "axis": null},
      "y": {"field": "l", "type": "quantitative", "axis": null},
      "y2": {"field": "h"}
     }
    },
    {
     "data": {"name": "bars"},
     "mark": {"type": "bar", "width": 2, "stroke": "#303030", "strokeWidth": 0.3},
     "encoding": {
      "x": {"field": "i", "type": "quantitative", "axis": null},
      "y": {"field": "o", "type": "quantitative", "axis": null},
      "y2": {"field": "c"},
      "color": {"condition": {"test": "datum.c >= datum.o", "value": "#1a9a1a"}, "value": "#8b0a0a"}
     }
    },
    {
     "data": {"name": "pattern"},
     "mark": {"type": "line", "color": "#000000", "strokeWidth": 1.5},
     "encoding": {
      "x": {"field": "i", "type": "quantitative", "axis": null},
      "y": {"field": "p", "type": "quantitative", "axis": null},
      "detail": {"field": "seg"}
     }
    },
    {
     "data": {"name": "proj"},
     "mark": {"type": "line", "color": "#7a7a7a", "strokeWidth": 1, "strokeDash": [5, 3]},
     "encoding": {
      "x": {"field": "i", "type": "quantitative", "axis": null},
      "y": {"field": "p", "type": "quantitative", "axis": null}
     }
    },
    {
     "data": {"values": [{"t": "▼ NZDUSD,H1 0.70768 0.70791 0.70701 0.70718"}]},
     "mark": {"type": "text", "align": "left", "baseline": "middle", "fontSize": 6.3, "color": "#000000"},
     "encoding": {
      "x": {"datum": 0.6, "type": "quantitative", "axis": null},
      "y": {"datum": 0.71099, "type": "quantitative", "axis": null},
      "text": {"field": "t"}
     }
    },
    {
     "data": {"name": "pricelabels"},
     "layer": [
      {
       "mark": {"type": "rule", "color": "#000000", "strokeWidth": 1, "clip": false},
       "encoding": {
        "x": {"datum": 328.41, "type": "quantitative", "axis": null},
        "x2": {"datum": 329.55},
        "y": {"field": "p", "type": "quantitative", "axis": null}
       }
      },
      {
       "mark": {"type": "text", "align": "left", "baseline": "middle", "fontSize": 6.2, "color": "#000000", "clip": false},
       "encoding": {
        "x": {"datum": 330.2, "type": "quantitative", "axis": null},
        "y": {"field": "p", "type": "quantitative", "axis": null},
        "text": {"field": "p", "type": "quantitative", "format": ".5f"}
       }
      }
     ]
    },
    {
     "data": {"values": [{"p": 0.71055, "t": "0.71055", "bg": "#a3a399", "fg": "#ffffff"}, {"p": 0.70718, "t": "0.70718", "bg": "#000000", "fg": "#ffffff"}]},
     "layer": [
      {
       "mark": {"type": "rule", "strokeWidth": 7.5, "strokeCap": "butt", "clip": false},
       "encoding": {
        "x": {"datum": 329.2, "type": "quantitative", "axis": null},
        "x2": {"datum": 339.6},
        "y": {"field": "p", "type": "quantitative", "axis": null},
        "color": {"field": "bg", "type": "nominal", "scale": null}
       }
      },
      {
       "mark": {"type": "text", "align": "left", "baseline": "middle", "fontSize": 6.2, "clip": false},
       "encoding": {
        "x": {"datum": 329.7, "type": "quantitative", "axis": null},
        "y": {"field": "p", "type": "quantitative", "axis": null},
        "text": {"field": "t"},
        "color": {"field": "fg", "type": "nominal", "scale": null}
       }
      }
     ]
    }
   ]
  },
  {
   "width": 868,
   "height": 105,
   "layer": [
    {
     "data": {"name": "bars"},
     "mark": {"type": "bar", "width": 1.2, "color": "#707070"},
     "encoding": {
      "x": {"field": "i", "type": "quantitative", "scale": {"domain": [-0.38, 328.41], "nice": false, "zero": false, "padding": 0}, "axis": {"orient": "bottom", "title": null, "values": [0, 16, 32, 48, 64, 80, 96, 112, 128, 144, 160, 176, 192, 208, 224, 240, 256], "labelExpr": "['24 Nov 2020','25 Nov 09:00','26 Nov 01:00','26 Nov 17:00','27 Nov 09:00','30 Nov 01:00','30 Nov 17:00','1 Dec 09:00','2 Dec 01:00','2 Dec 17:00','3 Dec 09:00','4 Dec 01:00','4 Dec 17:00','7 Dec 09:00','8 Dec 01:00','8 Dec 17:00','9 Dec 09:00'][round(datum.value / 16)]", "labelAlign": "left", "labelBaseline": "top", "labelPadding": 0, "labelOverlap": false, "labelBound": false, "labelFlush": false, "labelFontSize": 6.7}},
      "y": {"field": "m", "type": "quantitative", "scale": {"domain": [-0.000961, 0.001402], "nice": false, "zero": false, "padding": 0}, "axis": {"orient": "right", "title": null, "values": [0.001235, 0, -0.000905], "labelExpr": "datum.value == 0 ? '0.00' : (datum.value < 0 ? '-' : '') + format(abs(datum.value), '.6f')", "labelPadding": 1, "labelFontSize": 5.5, "labelOverlap": false, "labelBound": false, "labelBaseline": {"condition": {"test": "datum.value > 0.001", "value": "bottom"}, "value": "middle"}}},
      "y2": {"datum": 0}
     }
    },
    {
     "data": {"name": "grid"},
     "mark": {"type": "rule", "color": "#3a3a3a", "strokeDash": [2, 2], "strokeWidth": 1},
     "encoding": {
      "x": {"field": "i", "type": "quantitative"}
     }
    },
    {
     "data": {"name": "bars"},
     "mark": {"type": "line", "color": "#ff2020", "strokeWidth": 1, "strokeDash": [2, 2]},
     "encoding": {
      "x": {"field": "i", "type": "quantitative"},
      "y": {"field": "s", "type": "quantitative"}
     }
    },
    {
     "data": {"values": [{"t": "MACD(12,26,9) 0.001016 0.000751"}]},
     "mark": {"type": "text", "align": "left", "baseline": "middle", "fontSize": 6.2, "color": "#000000"},
     "encoding": {
      "x": {"datum": 1.2, "type": "quantitative"},
      "y": {"datum": 0.00126, "type": "quantitative"},
      "text": {"field": "t"}
     }
    }
   ]
  }
 ]
}
